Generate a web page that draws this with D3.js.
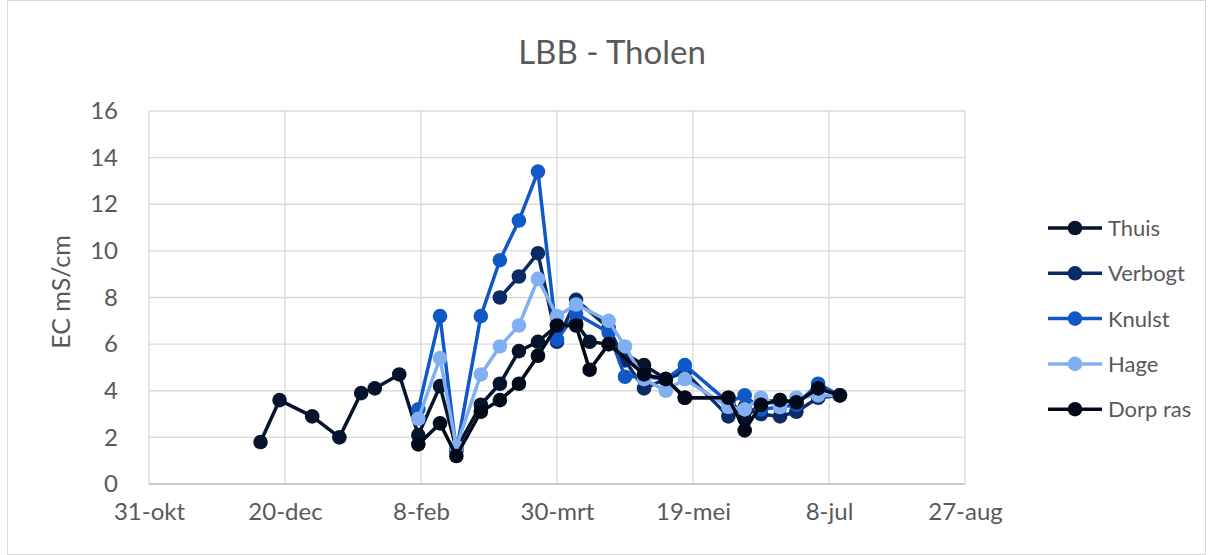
<!DOCTYPE html>
<html>
<head>
<meta charset="utf-8">
<title>LBB - Tholen</title>
<style>
  body { margin: 0; background: #fff; }
  svg text { font-family: Lato, "Open Sans", sans-serif; fill: #595959; }
  .grid line { stroke: #d9d9d9; stroke-width: 1.3px; }
  .series path { fill: none; stroke-width: 3.5px; stroke-linejoin: round; }
</style>
</head>
<body>
<svg width="1213" height="555"></svg>
<script src="https://d3js.org/d3.v7.min.js"></script>
<script>

// measuring dates (one shared list, null = no measurement that day)
var dates = ["2022-12-11","2022-12-18","2022-12-30","2023-01-09","2023-01-17","2023-01-22","2023-01-31",
             "2023-02-07","2023-02-15","2023-02-21","2023-03-02","2023-03-09","2023-03-16","2023-03-23",
             "2023-03-30","2023-04-06","2023-04-11","2023-04-18","2023-04-24","2023-05-01","2023-05-09",
             "2023-05-16","2023-06-01","2023-06-07","2023-06-13","2023-06-20","2023-06-26","2023-07-04",
             "2023-07-12"];

var seriesNames = ["Thuis", "Verbogt", "Knulst", "Hage", "Dorp ras"];
var seriesColors = ["#07142e", "#0c2a66", "#1158c7", "#80b0f2", "#020a19"];

var thuis   = [1.8,3.6,2.9,2.0,3.9,4.1,4.7, 2.1,4.2,1.5,3.4,4.3,5.7,6.1, 6.8,6.9,6.1,6.0,null,5.1,4.5, 3.7,3.7,2.8,3.5,3.6,3.5,4.1, 3.8];
var verbogt = [null,null,null,null,null,null,null, null,null,null,null,8.0,8.9,9.9, 6.1,7.9,null,6.7,5.3,4.1,4.5, 4.8,2.9,3.3,3.0,2.9,3.1,3.7, 3.8];
var knulst  = [null,null,null,null,null,null,null, 3.2,7.2,1.4,7.2,9.6,11.3,13.4, 6.2,7.3,null,6.5,4.6,4.6,4.5, 5.1,3.5,3.8,3.2,3.3,3.4,4.3, 3.8];
var hage    = [null,null,null,null,null,null,null, 2.8,5.4,1.6,4.7,5.9,6.8,8.8, 7.2,7.7,null,7.0,5.9,4.5,4.0, 4.5,3.3,3.2,3.7,3.3,3.7,3.8, 3.8];
var dorpRas = [null,null,null,null,null,null,null, 1.7,2.6,1.2,3.1,3.6,4.3,5.5, 6.8,6.8,4.9,6.0,null,4.7,4.5, 3.7,3.7,2.3,3.4,3.6,3.5,4.1, 3.8];

var xTickDates  = ["2022-10-31","2022-12-20","2023-02-08","2023-03-30","2023-05-19","2023-07-08","2023-08-27"];
var xTickLabels = ["31-okt","20-dec","8-feb","30-mrt","19-mei","8-jul","27-aug"];
var yTicks = [0, 2, 4, 6, 8, 10, 12, 14, 16];

var svg = d3.select("svg"),
    width = +svg.attr("width"),
    height = +svg.attr("height");

// chart area border
svg.append("rect")
    .attr("x", 7.5).attr("y", 0.5)
    .attr("width", width - 15).attr("height", height - 1)
    .attr("fill", "none").attr("stroke", "#d9d9d9");

var parse = d3.utcParse("%Y-%m-%d");

var x = d3.scaleUtc()
    .domain([parse(xTickDates[0]), parse(xTickDates[xTickDates.length - 1])])
    .range([149, 965]);

var y = d3.scaleLinear()
    .domain([0, 16])
    .range([484, 111]);

// gridlines
var grid = svg.append("g").attr("class", "grid");
grid.selectAll(".h").data(yTicks).enter().append("line")
    .attr("x1", 149).attr("x2", 965)
    .attr("y1", function(d) { return y(d); })
    .attr("y2", function(d) { return y(d); });
grid.selectAll(".v").data(xTickDates).enter().append("line")
    .attr("x1", function(d) { return x(parse(d)); })
    .attr("x2", function(d) { return x(parse(d)); })
    .attr("y1", 111).attr("y2", 484);

// axis line
svg.append("line").attr("x1", 149).attr("x2", 965).attr("y1", 484).attr("y2", 484)
    .attr("stroke", "#bfbfbf").attr("stroke-width", 1.3);

// axes (labels only, Excel style)
var yAxis = svg.append("g")
    .attr("transform", "translate(149,0)")
    .call(d3.axisLeft(y).tickValues(yTicks).tickSize(0).tickPadding(31));
var xAxis = svg.append("g")
    .attr("transform", "translate(0,484)")
    .call(d3.axisBottom(x)
        .tickValues(xTickDates.map(parse))
        .tickSize(0).tickPadding(19)
        .tickFormat(function(d, i) { return xTickLabels[i]; }));
[yAxis, xAxis].forEach(function(a) {
    a.select(".domain").remove();
    a.selectAll("text").attr("font-size", 24).attr("fill", "#595959")
        .attr("font-family", "Lato, 'Open Sans', sans-serif");
});

// title + y label
svg.append("text")
    .attr("x", 612).attr("y", 64)
    .attr("text-anchor", "middle")
    .attr("font-size", 33)
    .text("LBB - Tholen");

svg.append("text")
    .attr("transform", "translate(70,292) rotate(-90)")
    .attr("text-anchor", "middle")
    .attr("font-size", 25)
    .text("EC mS/cm");

// series
var allSeries = [thuis, verbogt, knulst, hage, dorpRas];
var line = d3.line()
    .x(function(d) { return x(d.date); })
    .y(function(d) { return y(d.value); });

allSeries.forEach(function(vals, s) {
    var pts = [];
    vals.forEach(function(v, i) {
        if (v != null) pts.push({ date: parse(dates[i]), value: v });
    });
    var g = svg.append("g").attr("class", "series");
    g.append("path").datum(pts)
        .attr("d", line)
        .attr("stroke", seriesColors[s]);
    g.selectAll("circle").data(pts).enter().append("circle")
        .attr("cx", function(d) { return x(d.date); })
        .attr("cy", function(d) { return y(d.value); })
        .attr("r", 7.3)
        .attr("fill", seriesColors[s]);
});

// legend
var legend = svg.append("g").attr("transform", "translate(1048,228)");
seriesNames.forEach(function(name, i) {
    var row = legend.append("g").attr("transform", "translate(0," + (i * 45.3) + ")");
    row.append("line").attr("x1", 0).attr("x2", 54).attr("y1", 0).attr("y2", 0)
        .attr("stroke", seriesColors[i]).attr("stroke-width", 3.5);
    row.append("circle").attr("cx", 27).attr("cy", 0).attr("r", 7.3).attr("fill", seriesColors[i]);
    row.append("text").attr("x", 60).attr("y", 8).attr("font-size", 22).text(name);
});

</script>
</body>
</html>
